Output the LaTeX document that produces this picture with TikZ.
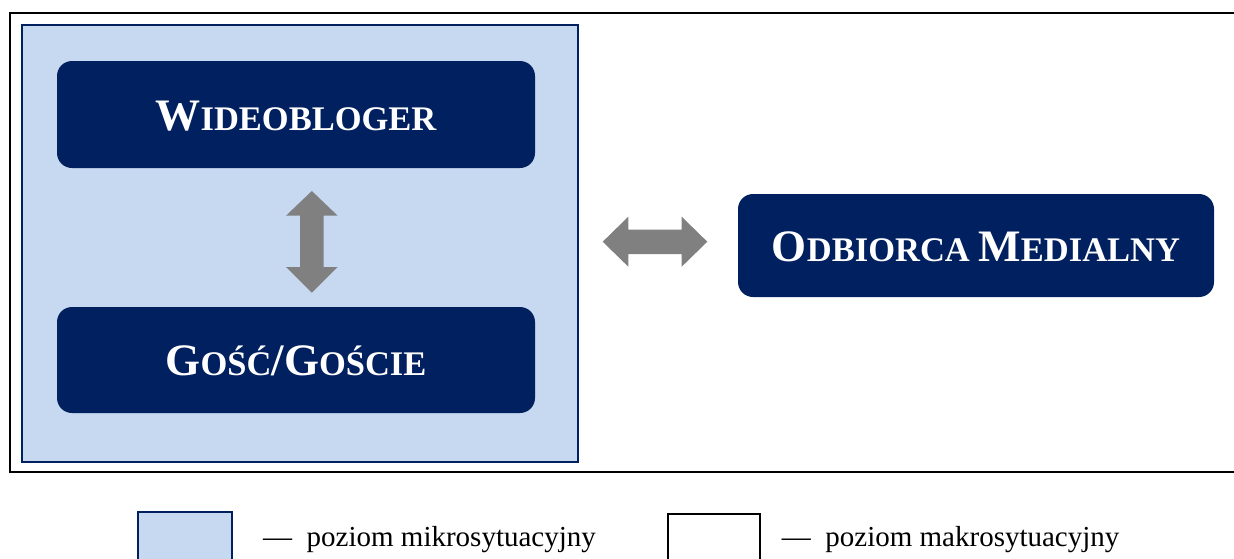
\documentclass[tikz,border=0pt]{standalone}
\usepackage{fontspec}
\setmainfont{Liberation Serif}
\definecolor{navy}{HTML}{002060}
\definecolor{lightblue}{HTML}{C6D9F1}
\definecolor{arrowgray}{HTML}{808080}
\newcommand\mysc[2]{{\fontsize{45}{45}\selectfont #1}{\fontsize{34.5}{34.5}\selectfont #2}}
\newcommand\mysp{{\fontsize{34.5}{34.5}\selectfont\ }}
\tikzset{
  darkbox/.style={fill=navy, draw=none, rounded corners=15pt, inner sep=0pt},
  boxlabel/.style={text=white, font=\bfseries, anchor=base, inner sep=0pt},
  blockarrow/.style={fill=arrowgray, draw=none},
  legendtext/.style={anchor=base west, inner sep=0pt, font=\fontsize{29}{29}\selectfont},
}
\begin{document}
\begin{tikzpicture}[x=1pt,y=-1pt]
\useasboundingbox (0,0) rectangle (1234,558);
\clip (0,0) rectangle (1234,558);
% outer frame (macro level)
\draw[line width=2.5pt, black] (10,13) rectangle (1250,472);
% micro level
\draw[fill=lightblue, draw=navy, line width=2pt] (22,24.5) rectangle (578,461.5);
% boxes
\node[darkbox, minimum width=478pt, minimum height=107pt] (w) at (296,114.5) {};
\node[boxlabel] (wt) at (296,130) {\mysc{W}{IDEOBLOGER}};
\node[darkbox, minimum width=478pt, minimum height=106pt] (g) at (296,360) {};
\node[boxlabel] (gt) at (296,375.5) {\mysc{G}{OŚĆ}{\fontsize{45}{45}\selectfont/}\mysc{G}{OŚCIE}};
\node[darkbox, minimum width=476pt, minimum height=103pt] (o) at (976,245.5) {};
\node[boxlabel] (ot) at (976,261) {\mysc{O}{DBIORCA}\mysp\mysc{M}{EDIALNY}};
% block arrows
\fill[blockarrow] (311.8,191) -- (337.7,215.7) -- (323.6,215.7) -- (323.6,267) -- (337.7,267) -- (311.8,292.7) -- (286,267) -- (300,267) -- (300,215.7) -- (286,215.7) -- cycle;
\fill[blockarrow] (602.7,241.7) -- (628.3,216.7) -- (628.3,229.5) -- (681.7,229.5) -- (681.7,216.7) -- (707.3,241.7) -- (681.7,266.7) -- (681.7,254) -- (628.3,254) -- (628.3,266.7) -- cycle;
% legend
\draw[fill=lightblue, draw=navy, line width=2pt] (138.3,511.7) rectangle (231.7,570);
\node[legendtext] (l1) at (263,546) {—\hspace{14.5pt}poziom mikrosytuacyjny};
\draw[fill=white, draw=black, line width=2pt] (668,514) rectangle (760,570);
\node[legendtext] (l2) at (781.7,546) {—\hspace{14.5pt}poziom makrosytuacyjny};
\end{tikzpicture}
\end{document}
